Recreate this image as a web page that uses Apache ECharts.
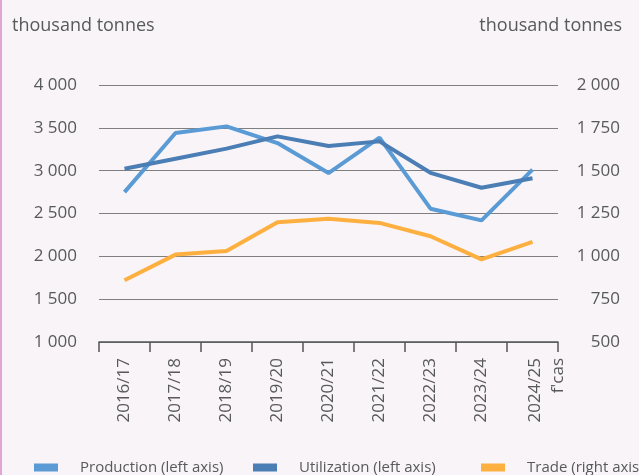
<!DOCTYPE html>
<html>
<head>
<meta charset="utf-8">
<script src="https://cdn.jsdelivr.net/npm/echarts@6/dist/echarts.min.js"></script>
<style>
html,body{margin:0;padding:0;background:#f8f4f8;overflow:hidden;width:639px;height:475px;}
#chart{width:700px;height:475px;}
</style>
</head>
<body>
<div id="chart"></div>
<script>
const categories = ['2016/17','2017/18','2018/19','2019/20','2020/21','2021/22','2022/23','2023/24',"2024/25\nf'cas"];
const production = [2750, 3440, 3517, 3322, 2972, 3385, 2556, 2420, 3012];
const utilization = [3023, 3140, 3257, 3400, 3287, 3342, 2975, 2801, 2912];
const trade = [860, 1010, 1031, 1199, 1220, 1195, 1117, 982, 1084];
const leftTicks = [1000, 4000, 500];
const rightTicks = [500, 2000, 250];
const seriesNames = ['Production (left axis)', 'Utilization (left axis)', 'Trade (right axis)'];
const colors = ['#5b9bd5', '#4a7eb4', '#fdb03f'];

const FONT = "'Open Sans', 'Noto Sans', sans-serif";
const TXT = '#58595b';
const EXTRA = 61; // canvas is wider than the visible window
function fmt(v){ return String(v).replace(/\B(?=(\d{3})+(?!\d))/g, ' '); }

const catData = categories.map((c) => c.indexOf('\n') >= 0
  ? {value: c, textStyle: {verticalAlign: 'top'}}
  : c);

const chart = echarts.init(document.getElementById('chart'));
const legendLefts = [34, 253, 481];
chart.setOption({
  backgroundColor: '#f8f4f8',
  animation: false,
  textStyle: {fontFamily: FONT},
  graphic: [
    {type: 'rect', left: 0, top: 0, shape: {width: 2, height: 475}, style: {fill: '#e0a6d8'}},
    {type: 'text', left: 12, top: 17, style: {text: 'thousand tonnes', font: "18px " + FONT, fill: TXT}},
    {type: 'text', right: 17 + EXTRA, top: 17, style: {text: 'thousand tonnes', font: "18px " + FONT, fill: TXT}}
  ],
  legend: seriesNames.map((n, i) => ({
    data: [n], left: legendLefts[i], top: 460, padding: 0, itemWidth: 24, itemHeight: 8, icon: 'rect',
    textStyle: {color: TXT, fontSize: 15, fontFamily: FONT, padding: [0, 0, 0, 17]},
    selectedMode: false
  })),
  grid: {left: 99, right: 81 + EXTRA, top: 85, bottom: 133, containLabel: false},
  xAxis: {
    type: 'category',
    data: catData,
    boundaryGap: true,
    axisLine: {show: true, lineStyle: {color: '#555', width: 1.5}},
    axisTick: {show: true, length: 10, lineStyle: {color: '#555', width: 1.5}},
    axisLabel: {
      rotate: 90, interval: 0, margin: 16, color: TXT, fontSize: 17, fontFamily: FONT, lineHeight: 22,
      formatter: (v) => v.indexOf('\n') >= 0
        ? v.split('\n').map((s, i) => '{' + (i ? 'b' : 'a') + '|' + s + '}').join('\n')
        : v,
      rich: {
        a: {fontSize: 17, fontFamily: FONT, color: TXT, lineHeight: 6},
        b: {fontSize: 17, fontFamily: FONT, color: TXT, lineHeight: 40}
      }
    }
  },
  yAxis: [
    {
      type: 'value', min: leftTicks[0], max: leftTicks[1], interval: leftTicks[2],
      axisLine: {show: false}, axisTick: {show: false},
      splitLine: {lineStyle: {color: '#7f7f7f', width: 1.2}},
      axisLabel: {color: TXT, fontSize: 17, fontFamily: FONT, margin: 22, formatter: fmt}
    },
    {
      type: 'value', min: rightTicks[0], max: rightTicks[1], interval: rightTicks[2],
      axisLine: {show: false}, axisTick: {show: false}, splitLine: {show: false},
      axisLabel: {color: TXT, fontSize: 17, fontFamily: FONT, margin: 62, align: 'right', formatter: fmt}
    }
  ],
  series: [
    {name: seriesNames[0], type: 'line', data: production, yAxisIndex: 0, symbol: 'none', lineStyle: {width: 4, color: colors[0]}, itemStyle: {color: colors[0]}},
    {name: seriesNames[1], type: 'line', data: utilization, yAxisIndex: 0, symbol: 'none', lineStyle: {width: 4, color: colors[1]}, itemStyle: {color: colors[1]}},
    {name: seriesNames[2], type: 'line', data: trade, yAxisIndex: 1, symbol: 'none', lineStyle: {width: 4, color: colors[2]}, itemStyle: {color: colors[2]}}
  ]
});
</script>
</body>
</html>
